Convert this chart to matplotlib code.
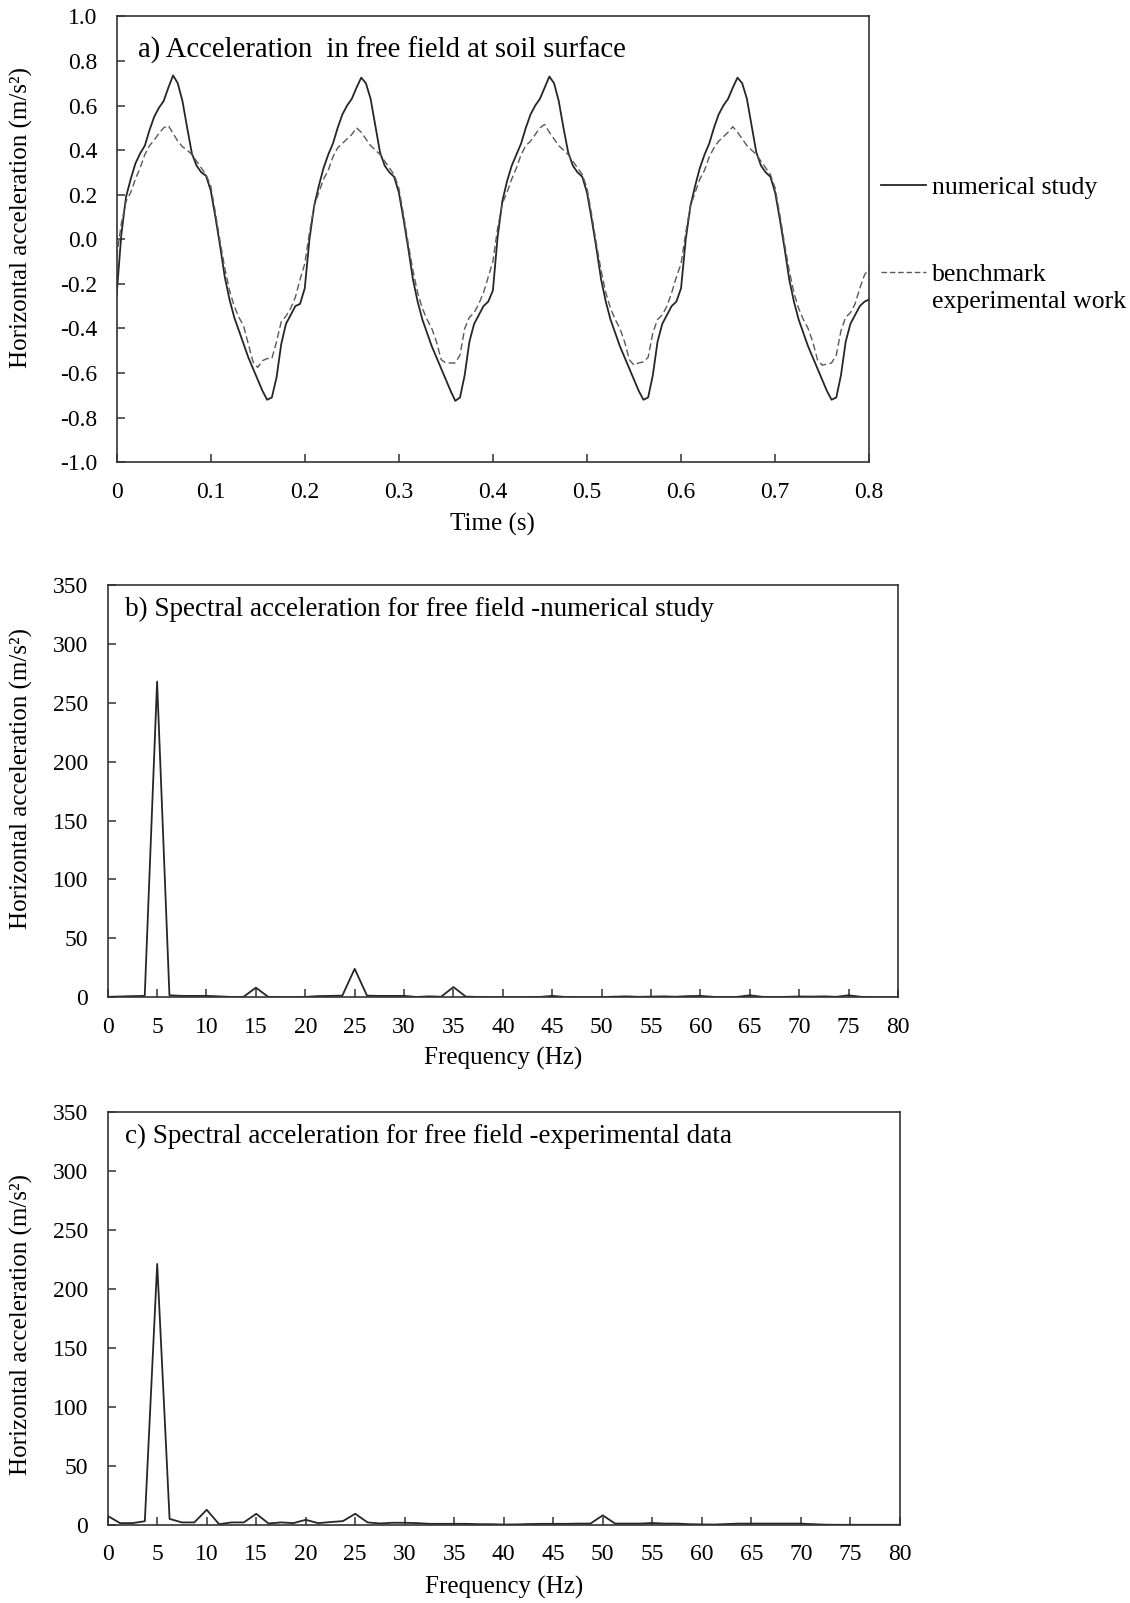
import numpy as np
import matplotlib
matplotlib.use("Agg")
import matplotlib.pyplot as plt
from matplotlib.lines import Line2D

plt.rcParams['font.family'] = ['Liberation Serif', 'DejaVu Serif']
plt.rcParams['axes.unicode_minus'] = False

# --- a) acceleration time history, sampled every 0.005 s (4 cycles of 0.2 s) ---
t = np.linspace(0.0, 0.8, 161)

num_c1 = [-0.25, 0.02, 0.19, 0.27, 0.34, 0.385, 0.42, 0.49, 0.55, 0.59,
          0.62, 0.68, 0.735, 0.70, 0.62, 0.50, 0.385, 0.33, 0.30, 0.285,
          0.22, 0.10, -0.03, -0.17, -0.27, -0.35, -0.41, -0.47, -0.53, -0.58,
          -0.63, -0.68, -0.72, -0.71, -0.62, -0.47, -0.38, -0.34, -0.30, -0.29]
num_c2 = [-0.22, 0.00, 0.15, 0.24, 0.32, 0.38, 0.43, 0.50, 0.56, 0.60,
          0.63, 0.68, 0.725, 0.70, 0.63, 0.51, 0.39, 0.33, 0.30, 0.28,
          0.21, 0.09, -0.04, -0.18, -0.28, -0.36, -0.42, -0.48, -0.53, -0.58,
          -0.63, -0.68, -0.725, -0.71, -0.61, -0.46, -0.38, -0.34, -0.30, -0.28]
num_c3 = [-0.23, 0.01, 0.17, 0.26, 0.33, 0.38, 0.43, 0.50, 0.56, 0.60,
          0.63, 0.68, 0.73, 0.70, 0.62, 0.50, 0.39, 0.33, 0.30, 0.28,
          0.21, 0.09, -0.04, -0.18, -0.28, -0.36, -0.42, -0.48, -0.53, -0.58,
          -0.63, -0.68, -0.72, -0.71, -0.61, -0.46, -0.38, -0.34, -0.30, -0.28]
num_c4 = [-0.22, 0.00, 0.15, 0.24, 0.32, 0.38, 0.43, 0.50, 0.56, 0.60,
          0.63, 0.68, 0.725, 0.70, 0.63, 0.51, 0.39, 0.33, 0.30, 0.28,
          0.21, 0.09, -0.04, -0.18, -0.28, -0.36, -0.42, -0.48, -0.53, -0.58,
          -0.63, -0.68, -0.72, -0.71, -0.61, -0.46, -0.38, -0.34, -0.30, -0.28]
num_end = [-0.27]

exp_c1 = [-0.08, 0.07, 0.17, 0.21, 0.27, 0.32, 0.38, 0.42, 0.445, 0.475,
          0.50, 0.51, 0.475, 0.44, 0.415, 0.40, 0.38, 0.35, 0.32, 0.29,
          0.24, 0.12, -0.01, -0.13, -0.23, -0.30, -0.35, -0.39, -0.47, -0.55,
          -0.575, -0.545, -0.535, -0.535, -0.46, -0.37, -0.345, -0.31, -0.26, -0.18]
exp_c2 = [-0.11, 0.03, 0.15, 0.21, 0.27, 0.31, 0.37, 0.41, 0.43, 0.45,
          0.47, 0.50, 0.48, 0.45, 0.42, 0.40, 0.38, 0.35, 0.32, 0.29,
          0.23, 0.11, -0.02, -0.14, -0.24, -0.31, -0.36, -0.40, -0.46, -0.54,
          -0.555, -0.555, -0.555, -0.52, -0.40, -0.35, -0.33, -0.29, -0.24, -0.17]
exp_c3 = [-0.10, 0.05, 0.16, 0.21, 0.27, 0.32, 0.38, 0.42, 0.44, 0.47,
          0.50, 0.515, 0.48, 0.45, 0.42, 0.40, 0.38, 0.35, 0.32, 0.29,
          0.23, 0.11, -0.02, -0.14, -0.24, -0.31, -0.36, -0.40, -0.46, -0.54,
          -0.565, -0.555, -0.55, -0.53, -0.42, -0.36, -0.34, -0.30, -0.24, -0.17]
exp_c4 = [-0.11, 0.03, 0.15, 0.21, 0.27, 0.31, 0.37, 0.41, 0.44, 0.46,
          0.48, 0.505, 0.48, 0.45, 0.42, 0.40, 0.38, 0.35, 0.32, 0.29,
          0.23, 0.11, -0.02, -0.14, -0.24, -0.31, -0.36, -0.40, -0.46, -0.54,
          -0.565, -0.56, -0.555, -0.52, -0.41, -0.35, -0.33, -0.29, -0.22, -0.16]
exp_end = [-0.13]

acc_numerical = np.array(num_c1 + num_c2 + num_c3 + num_c4 + num_end)
acc_experimental = np.array(exp_c1 + exp_c2 + exp_c3 + exp_c4 + exp_end)

# --- b), c) spectral amplitudes, df = 1.25 Hz ---
freq = np.linspace(0.0, 80.0, 65)

spec_numerical = [0.2, 0.5, 0.8, 1.0, 268, 1.5, 1.0, 1.0, 1.0, 0.6,
                  0.1, 0.2, 8.0, 0.2, 0.0, 0.0, 0.1, 0.8, 1.0, 1.2,
                  24, 1.2, 1.0, 1.0, 1.0, 0.1, 0.6, 0.3, 8.5, 0.4,
                  0.1, 0.0, 0.0, 0.0, 0.0, 0.1, 1.0, 0.1, 0.0, 0.0,
                  0.0, 0.3, 0.6, 0.2, 0.4, 0.6, 0.3, 0.8, 1.0, 0.2,
                  0.0, 0.2, 1.5, 0.2, 0.0, 0.2, 0.5, 0.4, 0.6, 0.2,
                  1.5, 0.2, 0.0, 0.0, 0.0]

spec_experimental = [7.5, 1.4, 1.4, 3.0, 221, 5.0, 2.0, 2.0, 12.7, 0.5,
                     2.0, 2.0, 9.3, 1.1, 2.0, 1.4, 4.2, 1.4, 2.3, 3.1,
                     9.3, 2.0, 1.1, 1.7, 1.7, 1.4, 0.8, 0.8, 0.8, 0.8,
                     0.5, 0.5, 0.2, 0.3, 0.6, 0.8, 0.8, 0.8, 1.0, 1.0,
                     8.0, 1.0, 1.0, 1.0, 1.5, 1.0, 1.0, 0.5, 0.3, 0.2,
                     0.6, 1.0, 1.0, 1.0, 1.0, 1.0, 1.0, 0.5, 0.1, 0.0,
                     0.0, 0.0, 0.0, 0.0, 0.0]

ylabel = 'Horizontal acceleration (m/s\u00b2)'
tick_fs = 17
label_fs = 18
line_col = '#262626'


def style_axes(ax):
    for sp in ax.spines.values():
        sp.set_linewidth(1.2)
        sp.set_color('#333333')
    ax.tick_params(direction='in', length=6, width=1.1, colors='#333333',
                   labelsize=tick_fs, labelcolor='black')
    ax.tick_params(axis='y', pad=14)
    ax.tick_params(axis='x', pad=14)


fig = plt.figure(figsize=(11.3, 16.03), dpi=100)

# a) time history
ax_a = fig.add_axes([0.1032, 0.7117, 0.666, 0.2781])
ax_a.plot(t, acc_numerical, color=line_col, lw=1.3, label='numerical study')
ax_a.plot(t, acc_experimental, color='#5a5a5a', lw=1.0, dashes=(5, 2.5),
          label='benchmark')
ax_a.set_xlim(0, 0.8)
ax_a.set_ylim(-1.0, 1.0)
xt = np.round(np.arange(0, 0.81, 0.1), 1)
ax_a.set_xticks(xt)
ax_a.set_xticklabels(['0'] + ['%.1f' % v for v in xt[1:]])
yt = np.round(np.arange(-1.0, 1.01, 0.2), 1) + 0.0
ax_a.set_yticks(yt)
ax_a.set_yticklabels(['%.1f' % abs(v) if abs(v) < 1e-9 else '%.1f' % v for v in yt])
style_axes(ax_a)
ax_a.set_xlabel('Time (s)', fontsize=label_fs)
ax_a.set_ylabel(ylabel, fontsize=label_fs)
ax_a.xaxis.set_label_coords(0.5, -0.114)
ax_a.yaxis.set_label_coords(-0.111, 0.548)
ax_a.text(0.028, 0.924, 'a) Acceleration  in free field at soil surface',
          transform=ax_a.transAxes, fontsize=20.6, va='center')

# legend to the right of panel a
h_num = Line2D([], [], color=line_col, lw=1.3)
h_exp = Line2D([], [], color='#5a5a5a', lw=1.0, dashes=(4, 2))
h_blank = Line2D([], [], linestyle='none')
leg1 = fig.legend([h_num], ['numerical study'], loc='center left',
                  bbox_to_anchor=(0.7796, 0.8833), frameon=False,
                  fontsize=18.5, handlelength=1.75, handletextpad=0.25,
                  borderpad=0, borderaxespad=0)
leg2 = fig.legend([h_exp, h_blank], ['benchmark', 'experimental work'],
                  loc='center left', bbox_to_anchor=(0.7796, 0.8205),
                  frameon=False, fontsize=18.5, handlelength=1.75,
                  handletextpad=0.25, borderpad=0, borderaxespad=0,
                  labelspacing=0.15)


def spectrum_panel(rect, values, title, label_y, xlabel_y):
    ax = fig.add_axes(rect)
    ax.plot(freq, values, color=line_col, lw=1.3)
    ax.set_xlim(0, 80)
    ax.set_ylim(0, 350)
    ax.set_xticks(np.arange(0, 81, 5))
    ax.set_yticks(np.arange(0, 351, 50))
    style_axes(ax)
    ax.set_xlabel('Frequency (Hz)', fontsize=label_fs)
    ax.set_ylabel(ylabel, fontsize=label_fs)
    ax.xaxis.set_label_coords(0.5, xlabel_y)
    ax.yaxis.set_label_coords(-0.0946, label_y)
    ax.text(0.0216, 0.94, title, transform=ax.transAxes,
            fontsize=19.5, va='center')
    return ax


ax_b = spectrum_panel([0.0953, 0.378, 0.6994, 0.257], spec_numerical,
                      'b) Spectral acceleration for free field -numerical study',
                      0.53, -0.12)
ax_c = spectrum_panel([0.0953, 0.0488, 0.701, 0.2577], spec_experimental,
                      'c) Spectral acceleration for free field -experimental data',
                      0.486, -0.123)

fig.savefig('out.png', dpi=100, facecolor='white')
